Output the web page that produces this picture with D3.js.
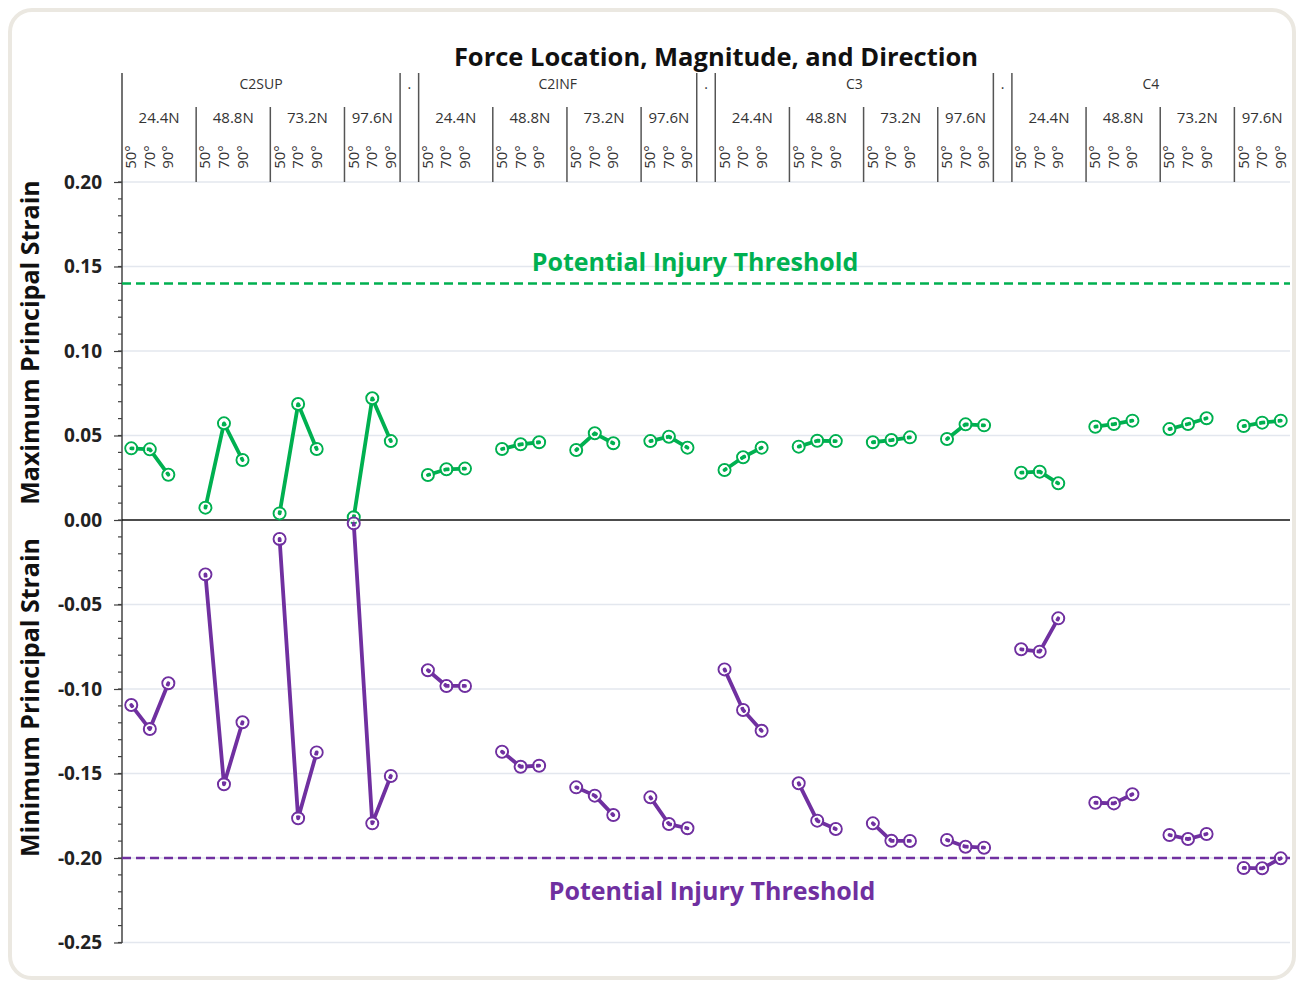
<!DOCTYPE html>
<html><head><meta charset="utf-8">
<script src="https://cdn.jsdelivr.net/npm/d3@7"></script>
<style>
html,body{margin:0;padding:0;background:#fff;}
svg{display:block;}
</style></head>
<body>
<script>
// ---------- DATA ----------
const locations = ["C2SUP", "C2INF", "C3", "C4"];
const magnitudes = ["24.4N", "48.8N", "73.2N", "97.6N"];
const angles = ["50°", "70°", "90°"];
const yTicks = [0.20, 0.15, 0.10, 0.05, 0.00, -0.05, -0.10, -0.15, -0.20, -0.25];

// Maximum principal strain (per location: 4 magnitudes x 3 angles)
const maxC2SUP = [0.0424, 0.0418, 0.0268,  0.0073, 0.0572, 0.0355,  0.0039, 0.0686, 0.0420,  0.0016, 0.0720, 0.0467];
const maxC2INF = [0.0266, 0.0300, 0.0304,  0.0420, 0.0448, 0.0460,  0.0414, 0.0513, 0.0454,  0.0467, 0.0493, 0.0428];
const maxC3    = [0.0296, 0.0371, 0.0428,  0.0434, 0.0469, 0.0467,  0.0460, 0.0473, 0.0489,  0.0479, 0.0566, 0.0560];
const maxC4    = [0.0280, 0.0286, 0.0217,  0.0552, 0.0568, 0.0588,  0.0538, 0.0568, 0.0602,  0.0556, 0.0576, 0.0588];

// Minimum principal strain
const minC2SUP = [-0.1095, -0.1237, -0.0966,  -0.0322, -0.1564, -0.1197,  -0.0112, -0.1765, -0.1375,  -0.0020, -0.1795, -0.1515];
const minC2INF = [-0.0889, -0.0982, -0.0982,  -0.1371, -0.1460, -0.1454,  -0.1582, -0.1631, -0.1746,  -0.1641, -0.1799, -0.1824];
const minC3    = [-0.0884, -0.1124, -0.1247,  -0.1558, -0.1779, -0.1828,  -0.1795, -0.1898, -0.1899,  -0.1893, -0.1933, -0.1939];
const minC4    = [-0.0765, -0.0779, -0.0582,  -0.1673, -0.1677, -0.1623,  -0.1864, -0.1888, -0.1858,  -0.2059, -0.2061, -0.2002];

const maxThreshold = 0.14;
const minThreshold = -0.20;
const thresholdLabel = "Potential Injury Threshold";
const chartTitle = "Force Location, Magnitude, and Direction";
const maxTitle = "Maximum Principal Strain";
const minTitle = "Minimum Principal Strain";

const maxSeries = [maxC2SUP, maxC2INF, maxC3, maxC4];
const minSeries = [minC2SUP, minC2INF, minC3, minC4];

// ---------- LAYOUT ----------
const W = 1298, H = 983;
const green = "#00B050", purple = "#7030A0";
const FONT = "'Open Sans', 'DejaVu Sans', sans-serif";

const svg = d3.select("body").append("svg").attr("width", W).attr("height", H);

// frame
svg.append("rect").attr("x", 10).attr("y", 10).attr("width", 1284).attr("height", 968)
  .attr("rx", 22).attr("fill", "#fff").attr("stroke", "#ebe8e1").attr("stroke-width", 4);

// build categories
const cats = [];
locations.forEach((loc, li) => {
  magnitudes.forEach((mag, mi) => {
    angles.forEach((ang, ai) => cats.push({key: `${loc}|${mag}|${ang}`, loc, mag, ang, li, mi, ai}));
    if (mi < magnitudes.length - 1) cats.push({key: `${loc}|${mag}|blank`, loc, mag, ang: "", li, mi, blank: true});
  });
  if (li < locations.length - 1) cats.push({key: `sep${li}`, sep: true, li});
});

const x = d3.scaleBand().domain(cats.map(d => d.key)).range([122, 1290]).padding(0);
const bw = x.bandwidth();
const y = d3.scaleLinear().domain([-0.25, 0.20]).range([942.5, 182]);

const xL = 122, xR = 1290;

// gridlines
svg.append("g").selectAll("line").data(yTicks.filter(t => Math.abs(t) > 1e-9)).join("line")
  .attr("x1", xL).attr("x2", xR).attr("y1", d => y(d)).attr("y2", d => y(d))
  .attr("stroke", "#e3e7ee").attr("stroke-width", 1.5);

// y axis with minor ticks
const minor = d3.range(-25, 21).map(v => v / 100);
svg.append("g").selectAll("line").data(minor).join("line")
  .attr("x1", xL - 4).attr("x2", xL).attr("y1", d => y(d)).attr("y2", d => y(d))
  .attr("stroke", "#404040").attr("stroke-width", 1.2);
const yAxis = d3.axisLeft(y).tickValues(yTicks).tickFormat(d3.format(".2f")).tickSize(8).tickPadding(12);
const ga = svg.append("g").attr("transform", `translate(${xL},0)`).call(yAxis);
ga.select(".domain").remove();
ga.selectAll(".tick line").attr("stroke", "#404040").attr("stroke-width", 1.2);
ga.selectAll(".tick text").attr("font-family", FONT).attr("font-weight", "bold")
  .attr("font-size", 19).attr("fill", "#222")
  .text(d => d3.format(".2f")(d).replace("−", "-"));

// axis line (extends into header)
svg.append("line").attr("x1", xL).attr("x2", xL).attr("y1", 73).attr("y2", 943)
  .attr("stroke", "#444").attr("stroke-width", 1.5);

// zero line
svg.append("line").attr("x1", xL).attr("x2", xR).attr("y1", y(0)).attr("y2", y(0))
  .attr("stroke", "#111").attr("stroke-width", 1.3);

// ---------- HEADER ----------
const hdr = svg.append("g");
const locSpans = locations.map((loc, li) => {
  const items = cats.filter(c => c.li === li && !c.sep);
  return {loc, x0: x(items[0].key), x1: x(items[items.length - 1].key) + bw};
});
const seps = cats.filter(c => c.sep);

const tall = [];
locSpans.forEach((s, i) => { if (i > 0) tall.push(s.x0); if (i < locSpans.length - 1) tall.push(s.x1); });
hdr.selectAll("line.tall").data(tall).join("line").attr("class", "tall")
  .attr("x1", d => d).attr("x2", d => d).attr("y1", 73).attr("y2", 182)
  .attr("stroke", "#555").attr("stroke-width", 1.5);

hdr.selectAll("text.loc").data(locSpans).join("text").attr("class", "loc")
  .attr("x", d => (d.x0 + d.x1) / 2).attr("y", 89).attr("text-anchor", "middle")
  .attr("font-family", FONT).attr("font-size", 14).attr("fill", "#333").text(d => d.loc);
hdr.selectAll("text.sep").data(seps).join("text").attr("class", "sep")
  .attr("x", d => x(d.key) + bw / 2).attr("y", 89).attr("text-anchor", "middle")
  .attr("font-family", FONT).attr("font-size", 14).attr("fill", "#333").text(".");

const magSpans = [];
locations.forEach((loc, li) => magnitudes.forEach((mag, mi) => {
  const items = cats.filter(c => c.li === li && c.mi === mi && !c.sep);
  magSpans.push({loc, mag, mi, x0: x(items[0].key), x1: x(items[items.length - 1].key) + bw});
}));
hdr.selectAll("line.mag").data(magSpans.filter(d => d.mi > 0)).join("line").attr("class", "mag")
  .attr("x1", d => d.x0).attr("x2", d => d.x0).attr("y1", 107).attr("y2", 182)
  .attr("stroke", "#555").attr("stroke-width", 1.5);
hdr.selectAll("text.mag").data(magSpans).join("text").attr("class", "mag")
  .attr("x", d => (d.x0 + d.x1) / 2).attr("y", 123).attr("text-anchor", "middle")
  .attr("font-family", FONT).attr("font-size", 15).attr("fill", "#333").text(d => d.mag);

hdr.selectAll("text.ang").data(cats.filter(c => c.ang)).join("text").attr("class", "ang")
  .attr("transform", d => `translate(${x(d.key) + bw / 2 + 5},157) rotate(-90)`)
  .attr("text-anchor", "middle")
  .attr("font-family", FONT).attr("font-size", 15).attr("fill", "#333").text(d => d.ang);

// ---------- TITLES ----------
svg.append("text").attr("x", 716).attr("y", 66).attr("text-anchor", "middle")
  .attr("font-family", FONT).attr("font-weight", "bold").attr("font-size", 25.5).attr("fill", "#111")
  .text(chartTitle);
svg.append("text").attr("transform", `translate(39,${(180 + 505) / 2}) rotate(-90)`)
  .attr("text-anchor", "middle").attr("font-family", FONT).attr("font-weight", "bold")
  .attr("font-size", 25).attr("fill", "#111").text(maxTitle);
svg.append("text").attr("transform", `translate(39,${(538 + 857) / 2}) rotate(-90)`)
  .attr("text-anchor", "middle").attr("font-family", FONT).attr("font-weight", "bold")
  .attr("font-size", 25).attr("fill", "#111").text(minTitle);

// ---------- THRESHOLDS ----------
svg.append("line").attr("x1", xL).attr("x2", xR).attr("y1", y(maxThreshold)).attr("y2", y(maxThreshold))
  .attr("stroke", green).attr("stroke-width", 2.5).attr("stroke-dasharray", "9,5");
svg.append("line").attr("x1", xL).attr("x2", xR).attr("y1", y(minThreshold)).attr("y2", y(minThreshold))
  .attr("stroke", purple).attr("stroke-width", 2.5).attr("stroke-dasharray", "9,5");
svg.append("text").attr("x", 695).attr("y", 271).attr("text-anchor", "middle")
  .attr("font-family", FONT).attr("font-weight", "bold").attr("font-size", 25).attr("fill", green)
  .text(thresholdLabel);
svg.append("text").attr("x", 712).attr("y", 900).attr("text-anchor", "middle")
  .attr("font-family", FONT).attr("font-weight", "bold").attr("font-size", 25).attr("fill", purple)
  .text(thresholdLabel);

// ---------- SERIES ----------
function drawSeries(series, color) {
  const g = svg.append("g");
  const line = d3.line().x(d => d.x).y(d => d.y);
  locations.forEach((loc, li) => magnitudes.forEach((mag, mi) => {
    const pts = angles.map((ang, ai) => ({
      x: x(`${loc}|${mag}|${ang}`) + bw / 2,
      y: y(series[li][mi * 3 + ai])
    }));
    g.append("path").attr("d", line(pts)).attr("fill", "none").attr("stroke", color)
      .attr("stroke-width", 3.8).attr("stroke-linejoin", "round").attr("stroke-linecap", "round");
    g.selectAll(null).data(pts).join("circle").attr("cx", d => d.x).attr("cy", d => d.y)
      .attr("r", 6).attr("fill", "none").attr("stroke", color).attr("stroke-width", 2);
    g.selectAll(null).data(pts).join("circle").attr("cx", d => d.x).attr("cy", d => d.y)
      .attr("r", 4).attr("fill", "none").attr("stroke", "#fff").attr("stroke-width", 1.7);
  }));
}
drawSeries(maxSeries, green);
drawSeries(minSeries, purple);
</script>
</body></html>
